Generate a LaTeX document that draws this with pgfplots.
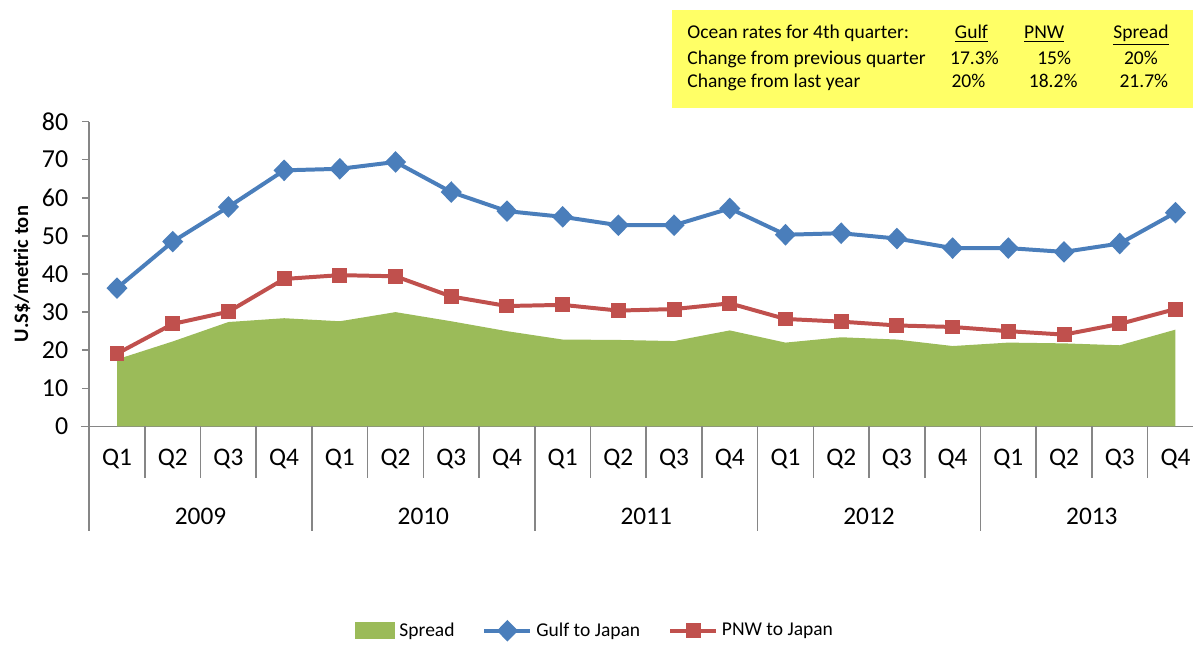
\documentclass[border=0pt]{standalone}
\usepackage{pgfplots}
\pgfplotsset{compat=1.18}
\usepackage{fontspec}
\setmainfont{Carlito}
\definecolor{gulf}{RGB}{74,126,187}
\definecolor{pnw}{RGB}{192,80,77}
\definecolor{spreadc}{RGB}{155,187,89}
\definecolor{boxy}{RGB}{255,255,102}
\definecolor{axgray}{RGB}{134,134,134}
\pgfplotsset{
  lineleg/.style={legend image code/.code={\draw[mark repeat=2,mark phase=2,##1] plot coordinates {(0pt,0pt)(11.5pt,0pt)(23pt,0pt)};}},
  arealeg/.style={legend image code/.code={\fill[spreadc] (0pt,-4.25pt) rectangle (20.5pt,4.25pt);}},
}
\begin{document}
\begin{tikzpicture}
\begin{axis}[
  scale only axis, width=553.75pt, height=153pt,
  xmin=-0.5, xmax=19.31, ymin=0, ymax=80,
  axis lines*=left,
  axis line style={draw=axgray, line width=0.8pt},
  ytick={0,10,...,80}, xtick=\empty,
  tick align=outside, major tick length=3.5pt,
  tick style={draw=axgray, line width=0.8pt},
  /pgf/number format/assume math mode=true,
  yticklabel style={font=\fontsize{13}{15}\selectfont, xshift=-3.5pt},
  ylabel={\textbf{U.S\$/metric ton}},
  ylabel style={at={(axis description cs:-0.0609,0.5)}, anchor=center, font=\fontsize{10.3}{12}\selectfont},
  clip=false,
  legend columns=3,
  legend style={at={(axis description cs:0.4591,-0.670)}, anchor=center, draw=none, fill=none,
    font=\fontsize{9.8}{11}\selectfont,
    /tikz/every even column/.append style={column sep=12pt}},
]
\path (axis description cs:-0.0808,-0.7124) rectangle (axis description cs:1,1.3987);
\addplot[fill=spreadc, draw=none, arealeg]
  coordinates {(0,17.6)(1,22.3)(2,27.4)(3,28.4)(4,27.6)(5,30.0)(6,27.6)(7,25.0)(8,22.8)(9,22.7)(10,22.4)(11,25.2)(12,22.0)(13,23.4)(14,22.8)(15,21.1)(16,22.0)(17,21.8)(18,21.3)(19,25.4)} \closedcycle;
\addlegendentry{Spread}
\addplot[gulf, line width=2pt, mark=diamond*, mark size=4pt, mark options={xscale=1.3}, lineleg]
  coordinates {(0,36.3)(1,48.5)(2,57.6)(3,67.2)(4,67.6)(5,69.4)(6,61.5)(7,56.5)(8,55.0)(9,52.8)(10,52.8)(11,57.2)(12,50.3)(13,50.7)(14,49.3)(15,46.8)(16,46.8)(17,45.8)(18,48.0)(19,56.1)};
\addlegendentry{Gulf to Japan}
\addplot[pnw, line width=2pt, mark=square*, mark size=3.5pt, mark options={line width=0.5pt}, lineleg]
  coordinates {(0,19.1)(1,26.9)(2,30.1)(3,38.7)(4,39.7)(5,39.4)(6,34.1)(7,31.6)(8,31.9)(9,30.4)(10,30.8)(11,32.3)(12,28.2)(13,27.5)(14,26.5)(15,26.1)(16,25.0)(17,24.1)(18,26.9)(19,30.8)};
\addlegendentry{PNW to Japan}
% category axis decoration
\pgfplotsinvokeforeach{0.5,1.5,2.5,4.5,5.5,6.5,8.5,9.5,10.5,12.5,13.5,14.5,16.5,17.5,18.5}{
  \draw[axgray, line width=0.8pt] (axis cs:#1,0) -- (axis cs:#1,-13.6);}
\pgfplotsinvokeforeach{-0.5,3.5,7.5,11.5,15.5}{
  \draw[axgray, line width=0.8pt] (axis cs:#1,0) -- (axis cs:#1,-27.45);}
\draw[axgray, line width=0.8pt] (axis cs:-0.65,0) -- (axis cs:-0.5,0);
\pgfplotsinvokeforeach{0,4,8,12,16}{
  \node[font=\fontsize{12.7}{14}\selectfont, anchor=center] at (axis cs:#1,-8.6) {Q1};}
\pgfplotsinvokeforeach{1,5,9,13,17}{
  \node[font=\fontsize{12.7}{14}\selectfont, anchor=center] at (axis cs:#1,-8.6) {Q2};}
\pgfplotsinvokeforeach{2,6,10,14,18}{
  \node[font=\fontsize{12.7}{14}\selectfont, anchor=center] at (axis cs:#1,-8.6) {Q3};}
\pgfplotsinvokeforeach{3,7,11,15,19}{
  \node[font=\fontsize{12.7}{14}\selectfont, anchor=center] at (axis cs:#1,-8.6) {Q4};}
\node[font=\fontsize{12.7}{14}\selectfont] at (axis cs:1.5,-23.53) {2009};
\node[font=\fontsize{12.7}{14}\selectfont] at (axis cs:5.5,-23.53) {2010};
\node[font=\fontsize{12.7}{14}\selectfont] at (axis cs:9.5,-23.53) {2011};
\node[font=\fontsize{12.7}{14}\selectfont] at (axis cs:13.5,-23.53) {2012};
\node[font=\fontsize{12.7}{14}\selectfont] at (axis cs:17.5,-23.53) {2013};
% info box
\fill[boxy] (axis description cs:0.5278,1.0458) rectangle (axis description cs:1,1.366);
\begin{scope}[every node/.style={font=\fontsize{9.8}{11}\selectfont, inner sep=0pt}]
\node[anchor=base west] at (axis description cs:0.5418,1.271) {Ocean rates for 4th quarter:};
\node[anchor=base] at (axis description cs:0.7995,1.271) {\underline{Gulf}};
\node[anchor=base] at (axis description cs:0.8655,1.271) {\underline{PNW}};
\node[anchor=base] at (axis description cs:0.9531,1.271) {\underline{Spread}};
\node[anchor=base west] at (axis description cs:0.5418,1.186) {Change from previous quarter};
\node[anchor=base] at (axis description cs:0.8022,1.186) {17.3\%};
\node[anchor=base] at (axis description cs:0.8745,1.186) {15\%};
\node[anchor=base] at (axis description cs:0.9531,1.186) {20\%};
\node[anchor=base west] at (axis description cs:0.5418,1.111) {Change from last year};
\node[anchor=base] at (axis description cs:0.7968,1.111) {20\%};
\node[anchor=base] at (axis description cs:0.8736,1.111) {18.2\%};
\node[anchor=base] at (axis description cs:0.9557,1.111) {21.7\%};
\end{scope}
\end{axis}
\end{tikzpicture}
\end{document}
